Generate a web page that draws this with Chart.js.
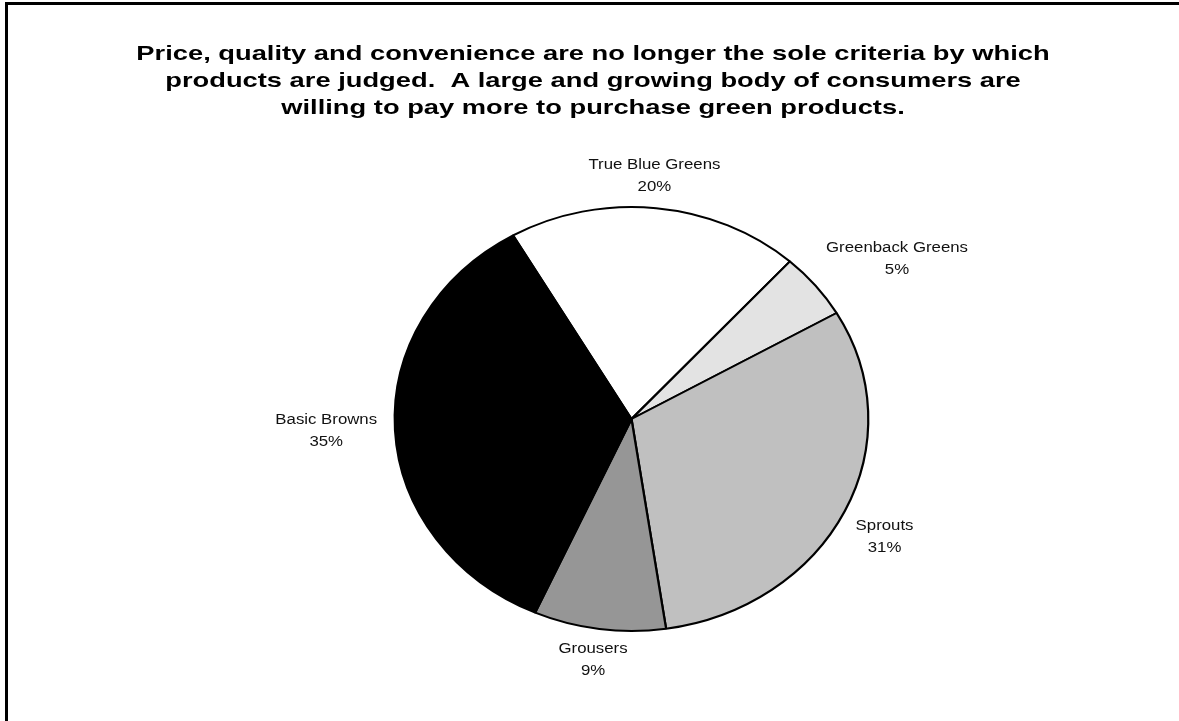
<!DOCTYPE html>
<html>
<head>
<meta charset="utf-8">
<script src="https://cdn.jsdelivr.net/npm/chart.js@4.4.1/dist/chart.umd.min.js"></script>
<style>
  html, body { margin: 0; padding: 0; background: #fff; }
  canvas { display: block; }
</style>
</head>
<body>
<canvas id="greenChart" width="1179" height="721"></canvas>
<script>
const segments = ["True Blue Greens", "Greenback Greens", "Sprouts", "Grousers", "Basic Browns"];
const shares = [20, 5, 31, 9, 35];
const sliceColors = ["#ffffff", "#e3e3e3", "#c0c0c0", "#969696", "#000000"];
const titleLines = [
  "Price, quality and convenience are no longer the sole criteria by which",
  "products are judged.  A large and growing body of consumers are",
  "willing to pay more to purchase green products."
];

// the source picture is stretched sideways, so pie and text get a x-scale
const PIE_SX = 1.117;
const TITLE_SX = 1.3;
const LABEL_SX = 1.2;
// small hand nudges so labels sit where the original put them
const labelNudge = [[-10, -3], [17, -9], [3, 12], [0, 0], [-6, -2]];

function wideText(ctx, text, x, y, sx) {
  ctx.save();
  ctx.translate(x, y);
  ctx.scale(sx, 1);
  ctx.fillText(text, 0, 0);
  ctx.restore();
}

const stretchPie = {
  id: "stretchPie",
  beforeDatasetsDraw(chart) {
    const arc = chart.getDatasetMeta(0).data[0];
    const ctx = chart.ctx;
    ctx.save();
    ctx.translate(arc.x, arc.y);
    ctx.scale(PIE_SX, 1);
    ctx.translate(-arc.x, -arc.y);
  },
  afterDatasetsDraw(chart) {
    chart.ctx.restore();
  }
};

const textBits = {
  id: "textBits",
  afterDraw(chart) {
    const ctx = chart.ctx;
    ctx.save();
    ctx.fillStyle = "#000";

    // frame (left + top only)
    ctx.fillRect(5, 2, 3, 719);
    ctx.fillRect(5, 2, 1174, 3);

    // title
    ctx.textAlign = "center";
    ctx.textBaseline = "alphabetic";
    ctx.font = 'bold 21px "Liberation Sans", Arial, sans-serif';
    titleLines.forEach((t, i) => wideText(ctx, t, 593, 59.5 + i * 27, TITLE_SX));

    // slice labels outside the pie
    ctx.font = '14px "Liberation Sans", Arial, sans-serif';
    ctx.fillStyle = "#111";
    const arcs = chart.getDatasetMeta(0).data;
    const total = shares.reduce((a, b) => a + b, 0);
    const gap = 12;
    arcs.forEach((arc, i) => {
      const mid = (arc.startAngle + arc.endAngle) / 2;
      const c = Math.cos(mid), s = Math.sin(mid);
      const R = arc.outerRadius;
      const pct = Math.round(shares[i] / total * 100) + "%";
      const w = Math.max(ctx.measureText(segments[i]).width, ctx.measureText(pct).width) * LABEL_SX;
      const h = 36;
      const bx = arc.x + (R * PIE_SX + gap) * c + c * w / 2 + labelNudge[i][0];
      const by = arc.y + (R + gap) * s + s * h / 2 + labelNudge[i][1];
      wideText(ctx, segments[i], bx, by - 11 + 5, LABEL_SX);
      wideText(ctx, pct, bx, by + 11 + 5, LABEL_SX);
    });
    ctx.restore();
  }
};

new Chart("greenChart", {
  type: "pie",
  data: {
    labels: segments,
    datasets: [{
      data: shares,
      backgroundColor: sliceColors,
      borderColor: "#000",
      borderWidth: 2,
      clip: false
    }]
  },
  options: {
    responsive: false,
    animation: false,
    events: [],
    rotation: -30,
    radius: 212,
    layout: { padding: { top: 206, bottom: 89, left: 400, right: 316 } },
    plugins: {
      legend: { display: false },
      tooltip: { enabled: false },
      title: { display: false }
    }
  },
  plugins: [stretchPie, textBits]
});
</script>
</body>
</html>
